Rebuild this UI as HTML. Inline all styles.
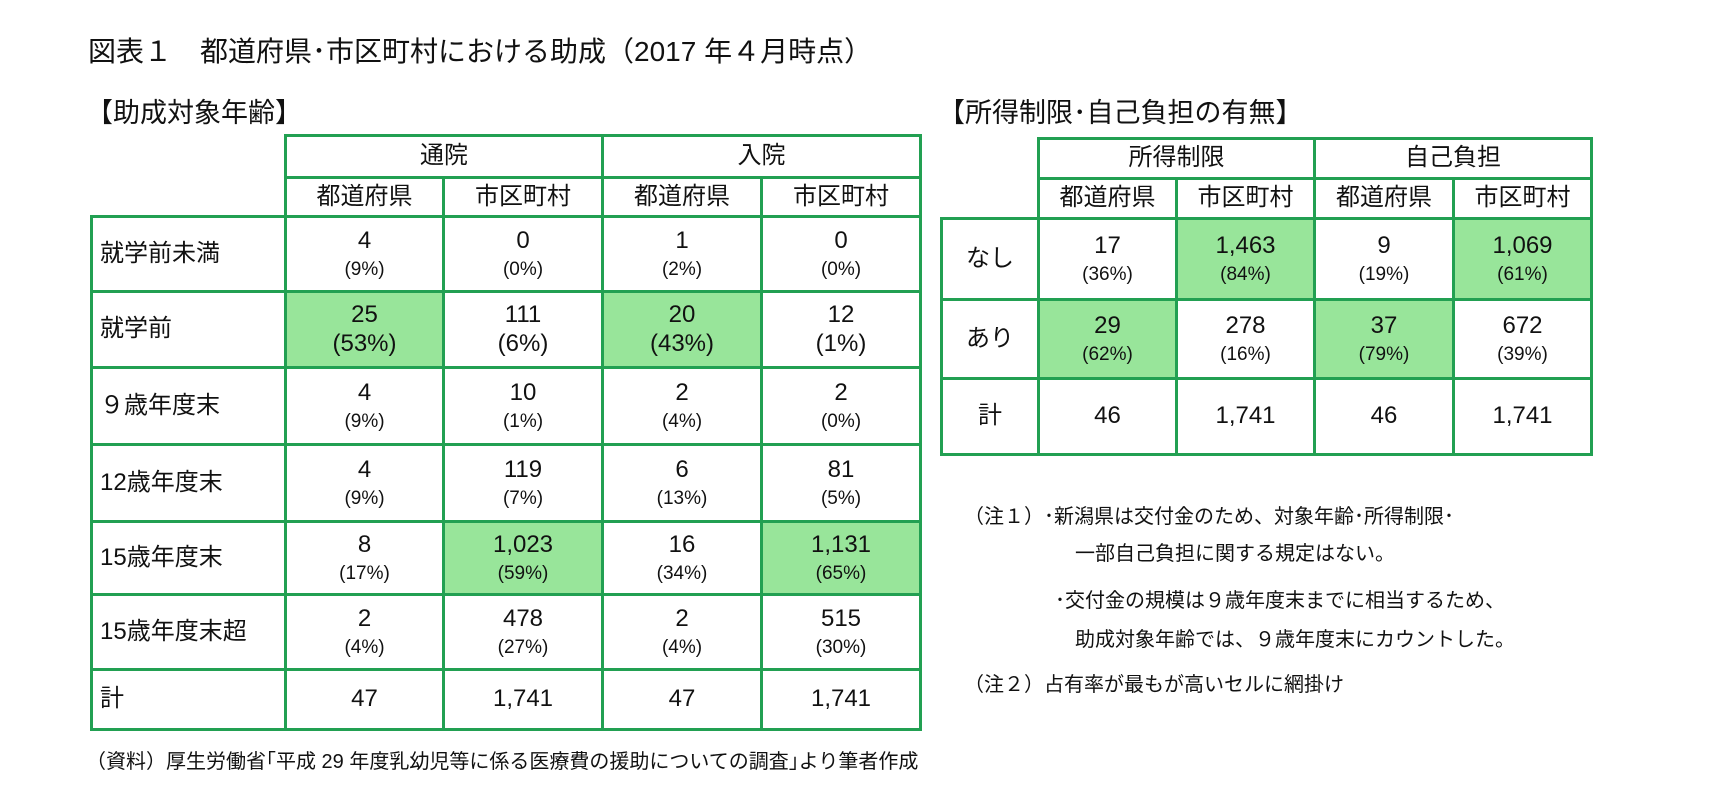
<!DOCTYPE html>
<html><head><meta charset="utf-8">
<style>
body{margin:0;width:1715px;height:804px;background:#fff;position:relative;overflow:hidden;font-family:"Liberation Sans","Noto Sans CJK JP",sans-serif;color:#111}
.abs{position:absolute;white-space:nowrap}
table{position:absolute;border-collapse:collapse;table-layout:fixed}
td{border:3px solid #22a052;text-align:center;vertical-align:middle;padding:0;font-size:24px;line-height:1.12}
td.blank{border:none}
td.lab{text-align:left;padding-left:7px}
td.g{background:#98e59a}
.p{font-size:19px;display:block;margin-top:4px}
.pb{font-size:24px;display:block;margin-top:2px}
</style></head><body>
<div class="abs" style="left:88px;top:30px;font-size:28px">図表１　都道府県･市区町村における助成（2017 年４月時点）</div>
<div class="abs" style="left:86px;top:91px;font-size:27px">【助成対象年齢】</div>
<div class="abs" style="left:938px;top:91px;font-size:27px">【所得制限･自己負担の有無】</div>

<table style="left:90px;top:134px;width:830px">
<colgroup><col style="width:194px"><col style="width:158px"><col style="width:159px"><col style="width:159px"><col style="width:159px"></colgroup>
<tr style="height:42px"><td class="blank"></td><td colspan="2">通院</td><td colspan="2">入院</td></tr>
<tr style="height:39px"><td class="blank"></td><td>都道府県</td><td>市区町村</td><td>都道府県</td><td>市区町村</td></tr>
<tr style="height:75px"><td class="lab">就学前未満</td><td>4<span class="p">(9%)</span></td><td>0<span class="p">(0%)</span></td><td>1<span class="p">(2%)</span></td><td>0<span class="p">(0%)</span></td></tr>
<tr style="height:76px"><td class="lab">就学前</td><td class="g">25<span class="pb">(53%)</span></td><td>111<span class="pb">(6%)</span></td><td class="g">20<span class="pb">(43%)</span></td><td>12<span class="pb">(1%)</span></td></tr>
<tr style="height:77px"><td class="lab">９歳年度末</td><td>4<span class="p">(9%)</span></td><td>10<span class="p">(1%)</span></td><td>2<span class="p">(4%)</span></td><td>2<span class="p">(0%)</span></td></tr>
<tr style="height:77px"><td class="lab">12歳年度末</td><td>4<span class="p">(9%)</span></td><td>119<span class="p">(7%)</span></td><td>6<span class="p">(13%)</span></td><td>81<span class="p">(5%)</span></td></tr>
<tr style="height:73px"><td class="lab">15歳年度末</td><td>8<span class="p">(17%)</span></td><td class="g">1,023<span class="p">(59%)</span></td><td>16<span class="p">(34%)</span></td><td class="g">1,131<span class="p">(65%)</span></td></tr>
<tr style="height:75px"><td class="lab">15歳年度末超</td><td>2<span class="p">(4%)</span></td><td>478<span class="p">(27%)</span></td><td>2<span class="p">(4%)</span></td><td>515<span class="p">(30%)</span></td></tr>
<tr style="height:60px"><td class="lab">計</td><td>47</td><td>1,741</td><td>47</td><td>1,741</td></tr>
</table>

<table style="left:940px;top:137px;width:650px">
<colgroup><col style="width:97px"><col style="width:138px"><col style="width:138px"><col style="width:139px"><col style="width:138px"></colgroup>
<tr style="height:40px"><td class="blank"></td><td colspan="2">所得制限</td><td colspan="2">自己負担</td></tr>
<tr style="height:40px"><td class="blank"></td><td>都道府県</td><td>市区町村</td><td>都道府県</td><td>市区町村</td></tr>
<tr style="height:81px"><td>なし</td><td>17<span class="p">(36%)</span></td><td class="g">1,463<span class="p">(84%)</span></td><td>9<span class="p">(19%)</span></td><td class="g">1,069<span class="p">(61%)</span></td></tr>
<tr style="height:79px"><td>あり</td><td class="g">29<span class="p">(62%)</span></td><td>278<span class="p">(16%)</span></td><td class="g">37<span class="p">(79%)</span></td><td>672<span class="p">(39%)</span></td></tr>
<tr style="height:76px"><td>計</td><td>46</td><td>1,741</td><td>46</td><td>1,741</td></tr>
</table>

<div class="abs" style="left:964px;top:500px;font-size:20px">（注１）･新潟県は交付金のため、対象年齢･所得制限･</div>
<div class="abs" style="left:1075px;top:537px;font-size:20px">一部自己負担に関する規定はない。</div>
<div class="abs" style="left:1055px;top:584px;font-size:20px">･交付金の規模は９歳年度末までに相当するため、</div>
<div class="abs" style="left:1075px;top:623px;font-size:20px">助成対象年齢では、９歳年度末にカウントした。</div>
<div class="abs" style="left:964px;top:668px;font-size:20px">（注２）占有率が最もが高いセルに網掛け</div>
<div class="abs" style="left:86px;top:745px;font-size:20px">（資料）厚生労働省｢平成 29 年度乳幼児等に係る医療費の援助についての調査｣より筆者作成</div>
</body></html>
